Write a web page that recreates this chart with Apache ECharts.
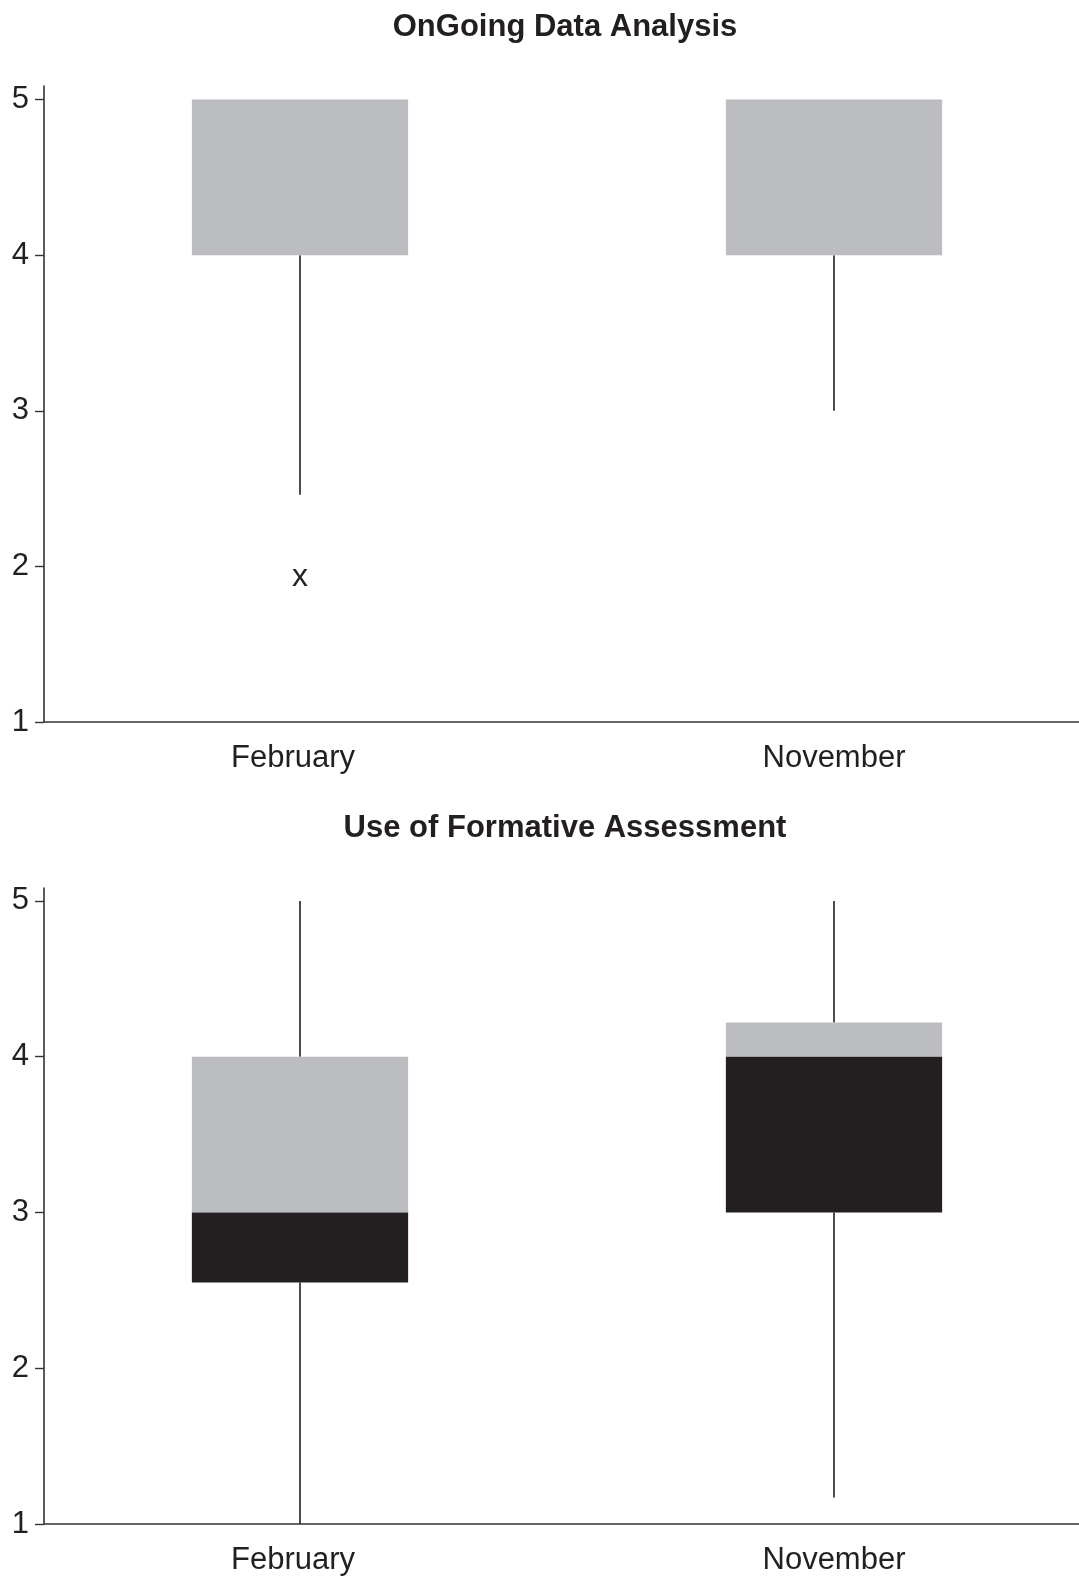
<!DOCTYPE html>
<html>
<head>
<meta charset="utf-8">
<title>OnGoing Data Analysis / Use of Formative Assessment</title>
<script src="https://cdn.jsdelivr.net/npm/echarts@6/dist/echarts.min.js"></script>
<style>
  html, body { margin: 0; padding: 0; background: #ffffff; }
  #chart { width: 1079px; height: 1578px; }
</style>
</head>
<body>
<div id="chart"></div>
<script>
// Survey rating distributions (scale 1–5), February vs November
const categories = ['February', 'November'];
const yTicks = [1, 2, 3, 4, 5];

// Panel 1: OnGoing Data Analysis
const title1 = 'OnGoing Data Analysis';
const whiskerLow1 = [2.46, 3.0];
const q1_1 = [4.0, 4.0];
const median1 = [4.0, 4.0];
const q3_1 = [5.0, 5.0];
const whiskerHigh1 = [5.0, 5.0];
const outliers1 = [[1, 1.93]]; // [category position, value]

// Panel 2: Use of Formative Assessment
const title2 = 'Use of Formative Assessment';
const whiskerLow2 = [1.0, 1.17];
const q1_2 = [2.55, 3.0];
const median2 = [3.0, 4.0];
const q3_2 = [4.0, 4.22];
const whiskerHigh2 = [5.0, 5.0];
const outliers2 = [];

const GRAY = '#bcbdc0';
const INK = '#231f20';
const FONT = '"Liberation Sans", Arial, Helvetica, sans-serif';
const BOX_WIDTH = 0.405; // in x-axis units

function boxRows(lo, q1, med, q3, hi) {
  return categories.map((c, i) => [i + 1, lo[i], q1[i], med[i], q3[i], hi[i]]);
}

function renderBox(params, api) {
  const x = api.value(0);
  const lo = api.value(1), q1 = api.value(2), med = api.value(3), q3 = api.value(4), hi = api.value(5);
  const pLo = api.coord([x, lo]);
  const pQ1 = api.coord([x, q1]);
  const pMed = api.coord([x, med]);
  const pQ3 = api.coord([x, q3]);
  const pHi = api.coord([x, hi]);
  const half = (api.coord([x + BOX_WIDTH / 2, q1])[0] - api.coord([x - BOX_WIDTH / 2, q1])[0]) / 2;
  const children = [];
  // whiskers
  if (pLo[1] > pQ1[1]) {
    children.push({ type: 'line', shape: { x1: pQ1[0], y1: pQ1[1], x2: pLo[0], y2: pLo[1] },
      style: { stroke: INK, lineWidth: 1.6 } });
  }
  if (pHi[1] < pQ3[1]) {
    children.push({ type: 'line', shape: { x1: pQ3[0], y1: pQ3[1], x2: pHi[0], y2: pHi[1] },
      style: { stroke: INK, lineWidth: 1.6 } });
  }
  // upper half of box (median to Q3)
  if (pQ3[1] < pMed[1]) {
    children.push({ type: 'rect', shape: { x: pMed[0] - half, y: pQ3[1], width: half * 2, height: pMed[1] - pQ3[1] },
      style: { fill: GRAY } });
  }
  // lower half of box (Q1 to median)
  if (pMed[1] < pQ1[1]) {
    children.push({ type: 'rect', shape: { x: pMed[0] - half, y: pMed[1], width: half * 2, height: pQ1[1] - pMed[1] },
      style: { fill: INK } });
  }
  return { type: 'group', children };
}

function renderOutlier(params, api) {
  const p = api.coord([api.value(0), api.value(1)]);
  return {
    type: 'text', x: p[0], y: p[1],
    style: { text: 'x', fill: INK, font: '32px ' + FONT, align: 'center', verticalAlign: 'middle' }
  };
}

function xAxisFor(gridIndex) {
  return {
    type: 'value', gridIndex, min: 0.5206, max: 2.4588,
    splitLine: { show: false },
    axisLine: { show: true, onZero: false, lineStyle: { color: '#333333', width: 1.6 } },
    axisTick: { show: false },
    axisLabel: {
      customValues: [1, 2],
      formatter: v => {
        const i = Math.round(v) - 1;
        return i === 0 ? '{a|' + categories[0] + '}' : (categories[i] || '');
      },
      rich: { a: { fontFamily: FONT, fontSize: 31, color: INK, padding: [0, 14, 0, 0] } },
      color: INK, fontFamily: FONT, fontSize: 31, margin: 21
    }
  };
}

function yAxisFor(gridIndex, max) {
  return {
    type: 'value', gridIndex, min: 1, max,
    splitLine: { show: false },
    axisLine: { show: true, onZero: false, lineStyle: { color: '#333333', width: 1.6 } },
    axisTick: { show: true, customValues: yTicks, length: 9, lineStyle: { color: '#333333', width: 1.4 } },
    axisLabel: { customValues: yTicks, color: INK, fontFamily: FONT, fontSize: 31, margin: 15 }
  };
}

const titleStyle = { fill: INK, font: 'bold 31px ' + FONT, align: 'center', verticalAlign: 'middle' };

const chart = echarts.init(document.getElementById('chart'), null, { renderer: 'canvas' });
chart.setOption({
  animation: false,
  backgroundColor: '#ffffff',
  graphic: [
    { type: 'text', x: 565, y: 27, style: Object.assign({ text: title1 }, titleStyle) },
    { type: 'text', x: 565, y: 828, style: Object.assign({ text: title2 }, titleStyle) }
  ],
  grid: [
    { left: 44, right: 0, top: 86, height: 636, containLabel: false },
    { left: 44, right: 0, top: 888, height: 636, containLabel: false }
  ],
  xAxis: [xAxisFor(0), xAxisFor(1)],
  yAxis: [yAxisFor(0, 5.087), yAxisFor(1, 5.083)],
  series: [
    { type: 'custom', xAxisIndex: 0, yAxisIndex: 0, renderItem: renderBox,
      encode: { x: 0, y: [1, 2, 3, 4, 5] },
      data: boxRows(whiskerLow1, q1_1, median1, q3_1, whiskerHigh1) },
    { type: 'custom', xAxisIndex: 0, yAxisIndex: 0, renderItem: renderOutlier,
      encode: { x: 0, y: 1 }, data: outliers1 },
    { type: 'custom', xAxisIndex: 1, yAxisIndex: 1, renderItem: renderBox,
      encode: { x: 0, y: [1, 2, 3, 4, 5] },
      data: boxRows(whiskerLow2, q1_2, median2, q3_2, whiskerHigh2) },
    { type: 'custom', xAxisIndex: 1, yAxisIndex: 1, renderItem: renderOutlier,
      encode: { x: 0, y: 1 }, data: outliers2 }
  ]
});
</script>
</body>
</html>
